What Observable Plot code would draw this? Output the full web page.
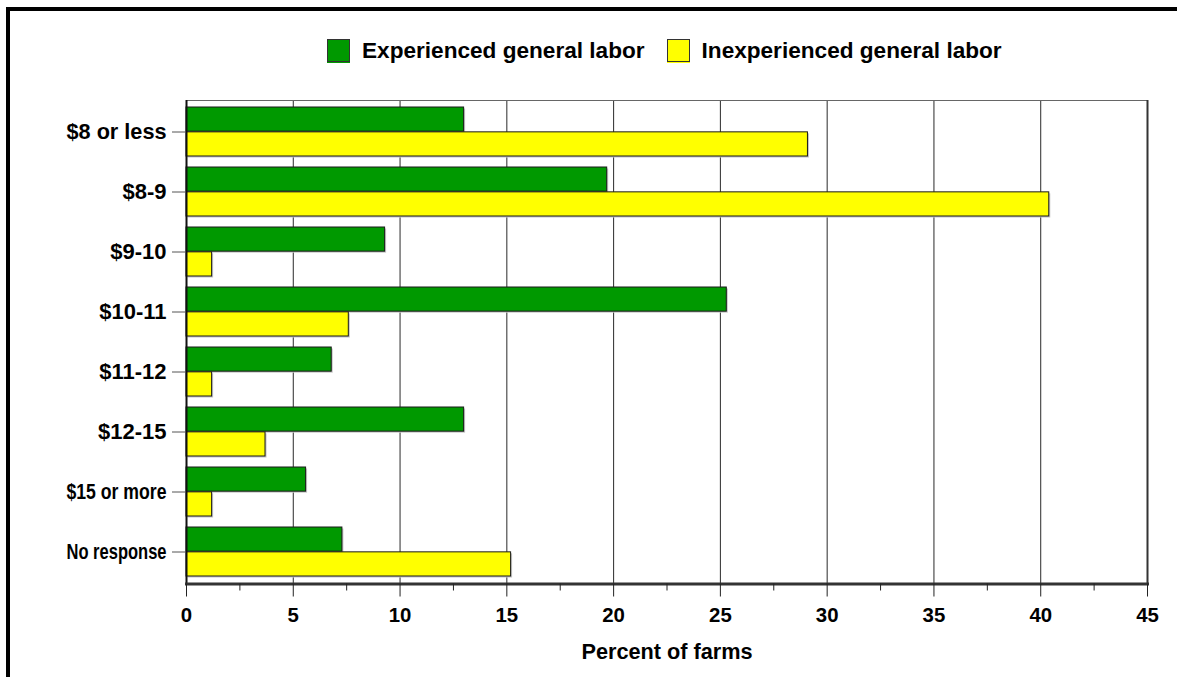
<!DOCTYPE html>
<html>
<head>
<meta charset="utf-8">
<script src="https://cdn.jsdelivr.net/npm/d3@7"></script>
<script src="https://cdn.jsdelivr.net/npm/@observablehq/plot@0.6"></script>
<style>
  html, body { margin: 0; padding: 0; background: #fff; overflow: hidden; }
  body { width: 1177px; height: 677px; position: relative; font-family: "Liberation Sans", Arial, sans-serif; }
  #border { position: absolute; left: 6px; top: 7px; width: 1400px; height: 1000px; border: 4px solid #000; pointer-events: none; box-sizing: border-box; }
  #legend { position: absolute; left: 327px; top: 39px; display: flex; align-items: center; font-weight: bold; font-size: 22.6px; color: #000; height: 23px; }
  .item { display: flex; align-items: center; margin-right: 22px; }
  .sw { width: 23px; height: 23px; box-sizing: border-box; border: 1px solid #333; margin-right: 12px; }
  #chart { position: absolute; left: 0; top: 80px; }
</style>
</head>
<body>
<div id="legend"></div>
<div id="chart"></div>
<div id="border"></div>
<script>
const categories = ["$8 or less", "$8-9", "$9-10", "$10-11", "$11-12", "$12-15", "$15 or more", "No response"];
const experienced = [13.0, 19.7, 9.3, 25.3, 6.8, 13.0, 5.6, 7.3];
const inexperienced = [29.1, 40.4, 1.2, 7.6, 1.2, 3.7, 1.2, 15.2];
const seriesNames = ["Experienced general labor", "Inexperienced general labor"];
const seriesColors = ["#009900", "#ffff00"];
const majorTicks = [0, 5, 10, 15, 20, 25, 30, 35, 40, 45];
const minorTicks = [2.5, 7.5, 12.5, 17.5, 22.5, 27.5, 32.5, 37.5, 42.5];
const xLabel = "Percent of farms";

// legend
const legend = document.getElementById("legend");
seriesNames.forEach((name, i) => {
  const item = document.createElement("div");
  item.className = "item";
  const sw = document.createElement("div");
  sw.className = "sw";
  sw.style.background = seriesColors[i];
  sw.style.boxShadow = `0 1px 0 ${seriesColors[i]}`;
  const t = document.createElement("span");
  t.textContent = name;
  item.appendChild(sw);
  item.appendChild(t);
  legend.appendChild(item);
});

const rows = categories.map((c, i) => ({category: c, exp: experienced[i], inexp: inexperienced[i]}));

const H = 597, MT = 20, MB = 93.5;
const paddingInner = 0.18, paddingOuter = 0.08;
const step = (H - MT - MB) / (categories.length - paddingInner + 2 * paddingOuter);
const half = step * (1 - paddingInner) / 2;

const font = "'Liberation Sans', Arial, sans-serif";

const chart = Plot.plot({
  width: 1177,
  height: H,
  marginTop: MT,
  marginBottom: MB,
  marginLeft: 186,
  marginRight: 30,
  style: {fontFamily: font, fontWeight: "bold", color: "#000", background: "transparent", overflow: "visible"},
  x: {domain: [0, 45]},
  y: {domain: categories, paddingInner, paddingOuter},
  marks: [
    Plot.gridX(majorTicks.slice(1, -1), {stroke: "#2a2a2a", strokeOpacity: 1, strokeWidth: 1}),
    // subtle bar shadows
    Plot.barX(rows, {x: "exp", y: "category", insetBottom: half, fill: "#c4c4c4", dx: 1.5, dy: 1.5}),
    Plot.barX(rows, {x: "inexp", y: "category", insetTop: half, fill: "#c4c4c4", dx: 1.5, dy: 1.5}),
    Plot.barX(rows, {x: "exp", y: "category", insetBottom: half, fill: seriesColors[0], stroke: "#1a1a1a", strokeWidth: 1}),
    Plot.barX(rows, {x: "inexp", y: "category", insetTop: half, fill: seriesColors[1], stroke: "#1a1a1a", strokeWidth: 1}),
    Plot.frame({stroke: "#666", strokeWidth: 1}),
    Plot.ruleX([0], {stroke: "#111", strokeWidth: 2}),
    Plot.ruleX([45], {stroke: "#333", strokeWidth: 2}),
    Plot.frame({anchor: "bottom", stroke: "#333", strokeWidth: 3}),
    Plot.axisX(majorTicks, {tickSize: 13, tickPadding: 11, fontSize: 20.4, fontWeight: "bold", stroke: "#222", label: null, tickFormat: d => String(d)}),
    Plot.axisX(minorTicks, {tickSize: 7, text: null, stroke: "#222", label: null}),
    Plot.axisY({tickSize: 14, tickPadding: 6, fontSize: 22, fontWeight: "bold", stroke: "#555", label: null}),
    Plot.text([xLabel], {frameAnchor: "bottom", dy: 75, fontSize: 21.7, fontWeight: "bold", fill: "#000"})
  ]
});
document.getElementById("chart").appendChild(chart);

// long category labels are squeezed to the available label width, as in the original
const maxLabel = 100;
chart.querySelectorAll("text").forEach(t => {
  if (categories.includes(t.textContent) && t.getComputedTextLength() > maxLabel) {
    t.setAttribute("textLength", maxLabel);
    t.setAttribute("lengthAdjust", "spacingAndGlyphs");
  }
});
</script>
</body>
</html>
